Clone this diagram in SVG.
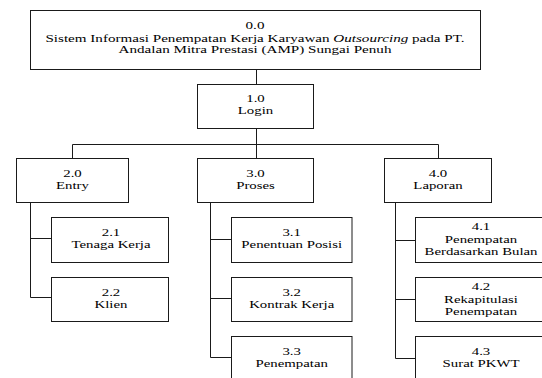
<svg xmlns="http://www.w3.org/2000/svg" width="542" height="378" viewBox="0 0 542 378">
<style>
  .box { fill: #ffffff; stroke: #1a1a1a; stroke-width: 1; }
  .lbl { font-family: 'Liberation Serif', 'DejaVu Serif', serif; font-size: 10px; fill: #000000; text-anchor: middle; }
  .con { stroke: #1a1a1a; stroke-width: 1; fill: none; }
</style>
<rect x="0" y="0" width="542" height="378" fill="#ffffff"/>
<g id="connectors">
  <path class="con" d="M256.5 69.5 V84.5 M256.5 128.5 V144.5 M72.5 144.5 H438.5 M72.5 144.5 V158.5 M256.5 144.5 V158.5 M438.5 144.5 V158.5"/>
  <path class="con" d="M30.5 202.5 V297.5 M30.5 238.5 H51.5 M30.5 297.5 H51.5"/>
  <path class="con" d="M210.5 202.5 V357.5 M210.5 239.5 H231.5 M210.5 298.5 H231.5 M210.5 357.5 H231.5"/>
  <path class="con" d="M395.5 202.5 V358.5 M395.5 240.5 H415.5 M395.5 299.5 H415.5 M395.5 358.5 H415.5"/>
</g>
<g id="n0">
  <rect class="box" x="30.5" y="10.5" width="450" height="59"/>
  <text class="lbl" transform="translate(255,0) scale(1.51,1)"><tspan x="0" y="29.5">0.0</tspan><tspan x="0" y="42">Sistem Informasi Penempatan Kerja Karyawan <tspan font-style="italic">Outsourcing</tspan> pada PT.</tspan><tspan x="0" y="53.5">Andalan Mitra Prestasi (AMP) Sungai Penuh</tspan></text>
</g>
<g id="n1">
  <rect class="box" x="197.5" y="84.5" width="116" height="44"/>
  <text class="lbl" transform="translate(255.5,0) scale(1.48,1)"><tspan x="0" y="102.5">1.0</tspan><tspan x="0" y="114.5">Login</tspan></text>
</g>
<g id="n2">
  <rect class="box" x="16.5" y="158.5" width="112" height="44"/>
  <text class="lbl" transform="translate(72.5,0) scale(1.48,1)"><tspan x="0" y="177.5">2.0</tspan><tspan x="0" y="189.5">Entry</tspan></text>
</g>
<g id="n3">
  <rect class="box" x="197.5" y="158.5" width="116" height="44"/>
  <text class="lbl" transform="translate(255.5,0) scale(1.48,1)"><tspan x="0" y="177.5">3.0</tspan><tspan x="0" y="189.5">Proses</tspan></text>
</g>
<g id="n4">
  <rect class="box" x="384.5" y="158.5" width="107" height="44"/>
  <text class="lbl" transform="translate(438,0) scale(1.48,1)"><tspan x="0" y="177.5">4.0</tspan><tspan x="0" y="189.5">Laporan</tspan></text>
</g>
<g id="n21">
  <rect class="box" x="51.5" y="217.5" width="117" height="45"/>
  <text class="lbl" transform="translate(111,0) scale(1.48,1)"><tspan x="0" y="236.5">2.1</tspan><tspan x="0" y="248.5">Tenaga Kerja</tspan></text>
</g>
<g id="n22">
  <rect class="box" x="51.5" y="277.5" width="117" height="44"/>
  <text class="lbl" transform="translate(111,0) scale(1.48,1)"><tspan x="0" y="296.5">2.2</tspan><tspan x="0" y="308.5">Klien</tspan></text>
</g>
<g id="n31">
  <rect class="box" x="231.5" y="217.5" width="120.5" height="45"/>
  <text class="lbl" transform="translate(291.7,0) scale(1.48,1)"><tspan x="0" y="236.5">3.1</tspan><tspan x="0" y="248.5">Penentuan Posisi</tspan></text>
</g>
<g id="n32">
  <rect class="box" x="231.5" y="277.5" width="120.5" height="44"/>
  <text class="lbl" transform="translate(291.7,0) scale(1.48,1)"><tspan x="0" y="296.5">3.2</tspan><tspan x="0" y="308.5">Kontrak Kerja</tspan></text>
</g>
<g id="n33">
  <rect class="box" x="231.5" y="336.5" width="120.5" height="50"/>
  <text class="lbl" transform="translate(291.7,0) scale(1.48,1)"><tspan x="0" y="355.5">3.3</tspan><tspan x="0" y="367.5">Penempatan</tspan></text>
</g>
<g id="n41">
  <rect class="box" x="415.5" y="217.5" width="135" height="45"/>
  <text class="lbl" transform="translate(481,0) scale(1.48,1)"><tspan x="0" y="230.5">4.1</tspan><tspan x="0" y="243">Penempatan</tspan><tspan x="0" y="255.5">Berdasarkan Bulan</tspan></text>
</g>
<g id="n42">
  <rect class="box" x="415.5" y="277.5" width="135" height="44"/>
  <text class="lbl" transform="translate(481,0) scale(1.48,1)"><tspan x="0" y="290.5">4.2</tspan><tspan x="0" y="303">Rekapitulasi</tspan><tspan x="0" y="315">Penempatan</tspan></text>
</g>
<g id="n43">
  <rect class="box" x="415.5" y="336.5" width="135" height="50"/>
  <text class="lbl" transform="translate(481,0) scale(1.48,1)"><tspan x="0" y="355.5">4.3</tspan><tspan x="0" y="367.5">Surat PKWT</tspan></text>
</g>
</svg>
